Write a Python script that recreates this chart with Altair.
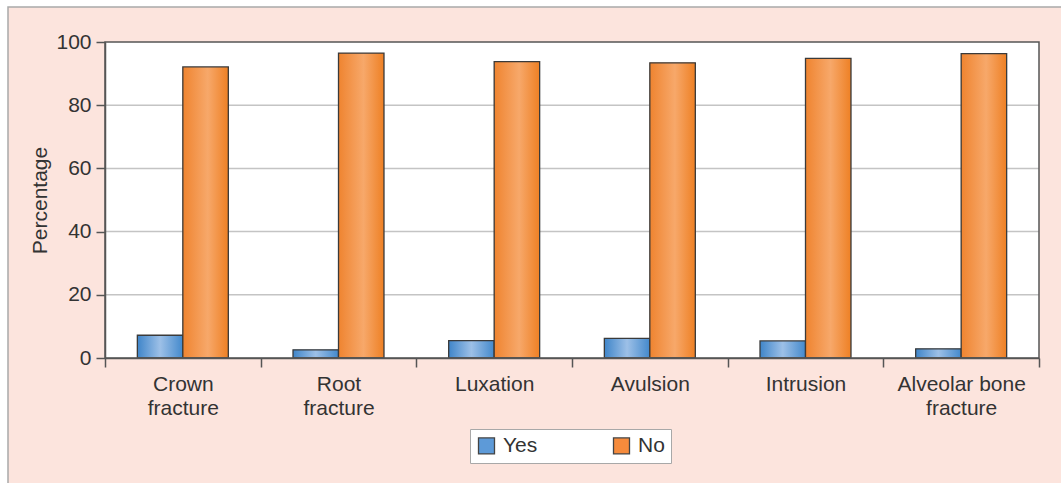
import altair as alt
import pandas as pd

categories = ["Crown fracture", "Root fracture", "Luxation", "Avulsion", "Intrusion", "Alveolar bone fracture"]
yes_values = [7.2, 2.6, 5.5, 6.2, 5.4, 2.9]
no_values = [92.1, 96.5, 93.8, 93.4, 94.8, 96.3]
groups = ["Yes", "No"]
y_ticks = [0, 20, 40, 60, 80, 100]
grid_ticks = [20, 40, 60, 80]

rows = []
for c, y, n in zip(categories, yes_values, no_values):
    rows.append({"Category": c, "Group": "Yes", "Value": y})
    rows.append({"Category": c, "Group": "No", "Value": n})
df = pd.DataFrame(rows)

W, H = 934, 316
FONT = "Liberation Sans"
FS = 21
TXT = "#333333"
PINK = "#fce4dd"

grad_yes = {"gradient": "linear", "x1": 0, "x2": 1, "y1": 0, "y2": 0,
            "stops": [{"offset": 0, "color": "#3f85c9"},
                      {"offset": 0.5, "color": "#9dc0e7"},
                      {"offset": 1, "color": "#4389cc"}]}
grad_no = {"gradient": "linear", "x1": 0, "x2": 1, "y1": 0, "y2": 0,
           "stops": [{"offset": 0, "color": "#ef8430"},
                     {"offset": 0.55, "color": "#f7a86a"},
                     {"offset": 1, "color": "#ee8024"}]}

one = alt.Data(values=[{"a": 1}])

y_axis = alt.Axis(title="Percentage", values=y_ticks, grid=False,
                  labelFont=FONT, labelFontSize=FS, labelColor=TXT, labelPadding=5,
                  tickSize=9, tickWidth=1.5, tickColor="#555555",
                  domainColor="#555555", domainWidth=1.5,
                  titleFont=FONT, titleFontSize=FS, titleFontWeight="normal",
                  titleColor=TXT, titlePadding=5, zindex=1)
y_scale = alt.Scale(domain=[0, 100], nice=False)

bg = alt.Chart(one).mark_rect(fill=PINK, stroke="#a9a9a9", strokeWidth=1.5).encode(
    x=alt.value(-97), x2=alt.value(1061 - 105 + 20), y=alt.value(-35), y2=alt.value(483 - 42 + 20))
plot_bg = alt.Chart(one).mark_rect(fill="white").encode(
    x=alt.value(0), x2=alt.value(W), y=alt.value(0), y2=alt.value(H))

grid = alt.Chart(pd.DataFrame({"Value": grid_ticks})).mark_rule(color="#c4c4c4", strokeWidth=1.5).encode(
    y=alt.Y("Value:Q", scale=y_scale, axis=y_axis),
    x=alt.value(0), x2=alt.value(W))

x_enc = alt.X("Category:N", sort=categories,
              scale=alt.Scale(paddingInner=0, paddingOuter=0),
              axis=alt.Axis(title=None, labelAngle=0, tickBand="extent",
                            labelExpr="split(replace(datum.label, ' fracture', '|fracture'), '|')",
                            labelFont=FONT, labelFontSize=FS, labelColor=TXT, labelLineHeight=24,
                            labelPadding=6, tickSize=9, tickWidth=1.5, tickColor="#555555",
                            domainColor="#555555", domainWidth=1.5, grid=False, zindex=1))
xoff = alt.XOffset("Group:N", sort=groups, scale=alt.Scale(paddingInner=0, paddingOuter=0.711))
y_enc = alt.Y("Value:Q", scale=y_scale, axis=y_axis)

bars = alt.Chart(df).mark_bar().encode(
    x=x_enc, xOffset=xoff, y=y_enc,
    color=alt.Color("Group:N", sort=groups,
                    scale=alt.Scale(domain=groups, range=["#5d9ad8", "#f68b3c"]),
                    legend=alt.Legend(title=None, orient="none", legendX=365, legendY=387,
                                      direction="horizontal", symbolType="square", symbolSize=256,
                                      symbolStrokeColor="#444444", symbolStrokeWidth=1.3,
                                      labelFont=FONT, labelFontSize=FS, labelColor=TXT,
                                      labelOffset=6, columnPadding=72, padding=6,
                                      fillColor="white", strokeColor="#a8a8a8", zindex=1)))

grad_bars = alt.Chart(df).mark_bar(stroke="#3a3a3a", strokeWidth=1.3).encode(
    x=x_enc, xOffset=xoff, y=y_enc,
    fill=alt.condition(alt.datum.Group == "Yes", alt.value(grad_yes), alt.value(grad_no)))

border = alt.Chart(one).mark_rect(filled=False, stroke="#555555", strokeWidth=1.5).encode(
    x=alt.value(0), x2=alt.value(W), y=alt.value(0), y2=alt.value(H))

chart = alt.layer(bg, plot_bg, grid, bars, grad_bars, border).properties(
    width=W, height=H,
    autosize=alt.AutoSizeParams(type="none"),
    padding={"left": 105, "top": 42, "right": 22, "bottom": 125},
    background="white",
).configure_view(stroke=None)

chart.save("out.html", embed_options={"renderer": "svg", "actions": False})
